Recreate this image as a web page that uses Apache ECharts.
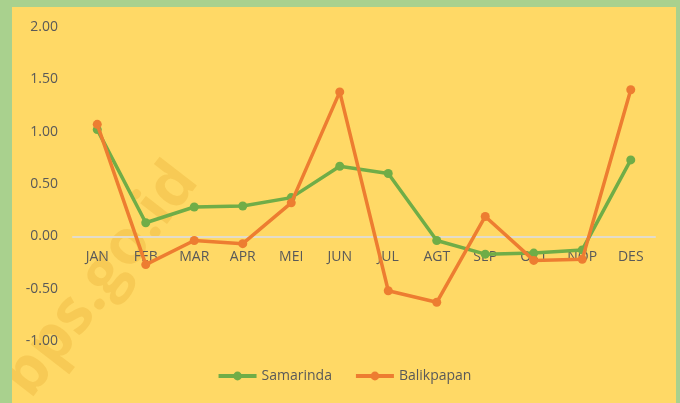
<!DOCTYPE html>
<html>
<head>
<meta charset="utf-8">
<script src="https://cdn.jsdelivr.net/npm/echarts@6/dist/echarts.min.js"></script>
<style>
  html, body { margin: 0; padding: 0; background: #a9d18e; }
  #chart { position: absolute; left: 12px; top: 7px; width: 664px; height: 396px; }
</style>
</head>
<body>
<div id="chart"></div>
<script>
const months = ['JAN', 'FEB', 'MAR', 'APR', 'MEI', 'JUN', 'JUL', 'AGT', 'SEP', 'OKT', 'NOP', 'DES']
const samarinda = [1.02, 0.13, 0.28, 0.29, 0.37, 0.67, 0.60, -0.04, -0.17, -0.16, -0.13, 0.73]
const balikpapan = [1.07, -0.27, -0.04, -0.07, 0.32, 1.38, -0.52, -0.63, 0.19, -0.23, -0.22, 1.40]

const textColor = '#595959'
const gridTop = 20
const gridBottom = 62
const gridHeight = 396 - gridTop - gridBottom
const chart = echarts.init(document.getElementById('chart'))

chart.setOption({
  backgroundColor: '#ffd966',
  textStyle: { fontFamily: 'Open Sans' },
  graphic: [
    {
      type: 'text',
      left: -20,
      top: 145,
      rotation: Math.PI * 0.29,
      z: 0,
      style: {
        text: 'bps.go.id',
        fontSize: 62,
        fontWeight: 'bold',
        fontFamily: 'Open Sans',
        fill: 'rgba(235, 180, 60, 0.4)',
      },
    },
  ],
  grid: {
    left: 61,
    right: 21,
    top: gridTop,
    bottom: gridBottom,
  },
  legend: {
    data: ['Samarinda', 'Balikpapan'],
    left: 'center',
    bottom: 15,
    itemWidth: 38,
    itemHeight: 11,
    itemGap: 22,
    lineStyle: { width: 4 },
    textStyle: { color: textColor, fontSize: 14 },
  },
  xAxis: {
    type: 'category',
    data: months,
    // axis sits on the zero value (1/3 of the -1..2 range up from the bottom)
    axisLine: { onZero: false, lineStyle: { color: '#e3dccb', width: 2 } },
    offset: -gridHeight / 3,
    axisTick: { show: false },
    axisLabel: { color: textColor, fontSize: 14, margin: 14 },
  },
  yAxis: {
    type: 'value',
    min: -1,
    max: 2,
    interval: 0.5,
    axisLine: { show: false },
    axisTick: { show: false },
    splitLine: { show: false },
    axisLabel: {
      color: textColor,
      fontSize: 14,
      margin: 15,
      formatter: (v) => v.toFixed(2),
    },
  },
  series: [
    {
      name: 'Samarinda',
      type: 'line',
      data: samarinda,
      symbol: 'circle',
      symbolSize: 9,
      itemStyle: { color: '#70ad47' },
      lineStyle: { width: 3.5 },
      z: 3,
    },
    {
      name: 'Balikpapan',
      type: 'line',
      data: balikpapan,
      symbol: 'circle',
      symbolSize: 9,
      itemStyle: { color: '#ed7d31' },
      lineStyle: { width: 3.5 },
      z: 4,
    },
  ],
})
</script>
</body>
</html>
